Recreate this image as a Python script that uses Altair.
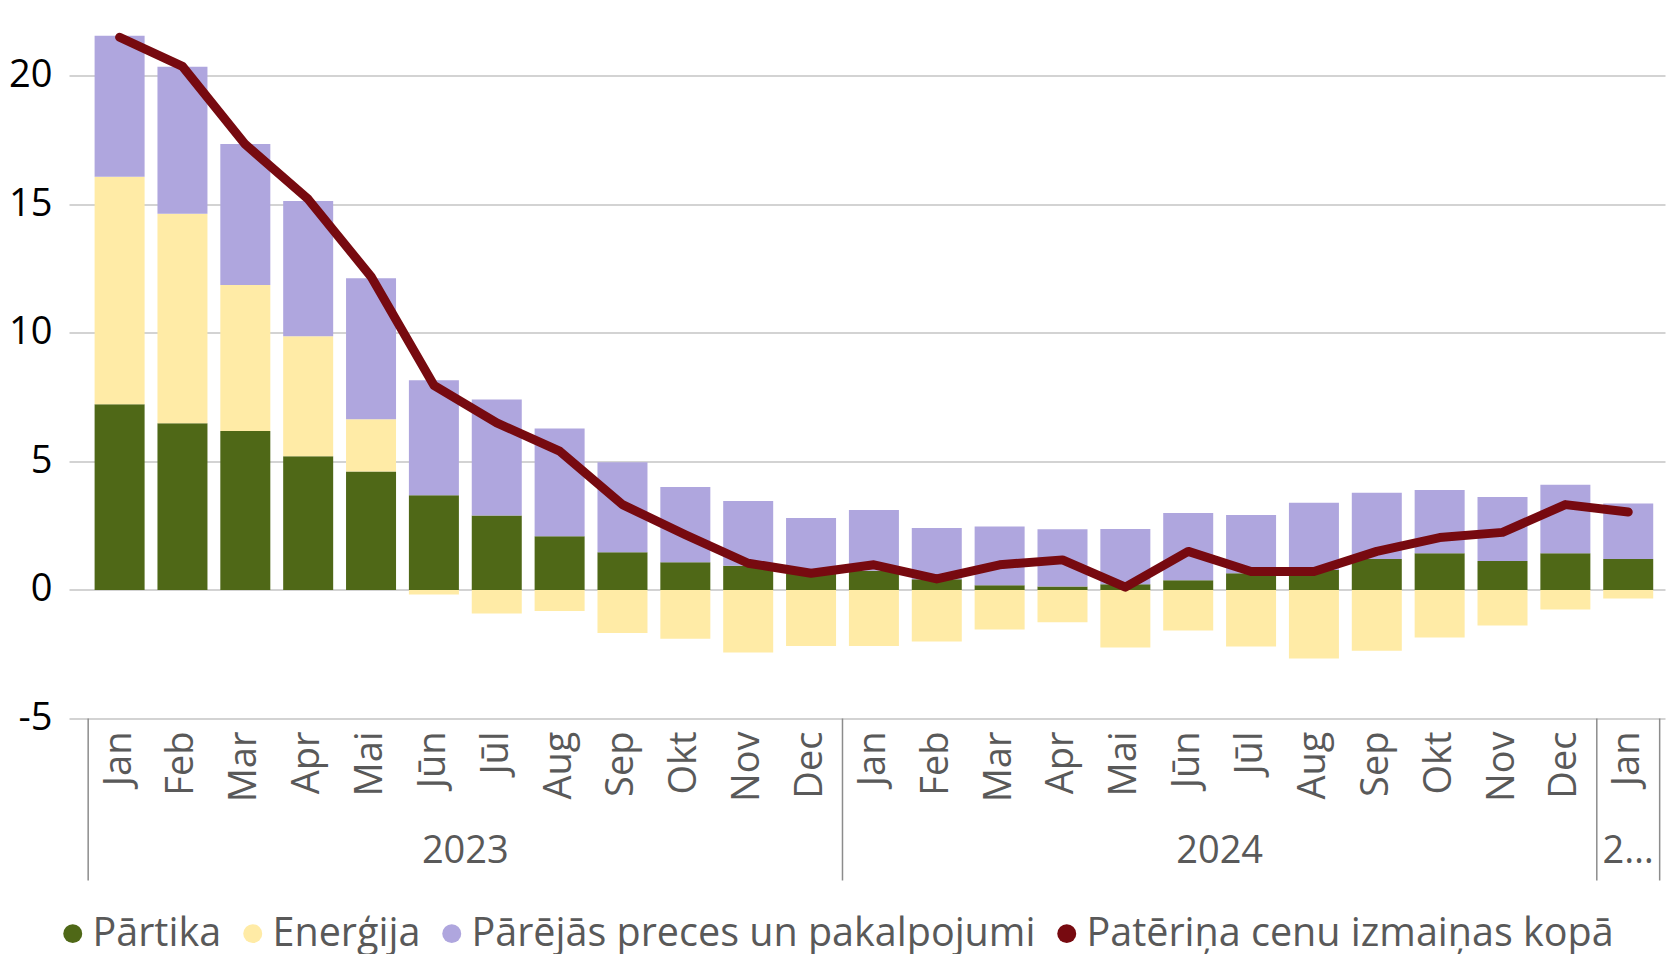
import altair as alt
import pandas as pd

# ---------------- data ----------------
months = ["Jan", "Feb", "Mar", "Apr", "Mai", "Jūn", "Jūl", "Aug", "Sep", "Okt", "Nov", "Dec",
          "Jan", "Feb", "Mar", "Apr", "Mai", "Jūn", "Jūl", "Aug", "Sep", "Okt", "Nov", "Dec",
          "Jan"]
years = ["2023"] * 12 + ["2024"] * 12 + ["2025"]

partika = [7.22, 6.49, 6.18, 5.20, 4.61, 3.68, 2.90, 2.09, 1.47, 1.08, 0.94, 0.62,
           0.75, 0.42, 0.18, 0.13, 0.22, 0.38, 0.65, 0.78, 1.20, 1.43, 1.13, 1.43,
           1.20]
energija = [8.85, 8.14, 5.68, 4.67, 2.03, -0.18, -0.92, -0.82, -1.67, -1.90, -2.43, -2.18,
            -2.18, -2.00, -1.54, -1.26, -2.24, -1.58, -2.20, -2.67, -2.36, -1.85, -1.38, -0.76,
            -0.33]
parejas = [5.49, 5.72, 5.49, 5.26, 5.49, 4.48, 4.51, 4.19, 3.50, 2.93, 2.52, 2.18,
           2.36, 1.99, 2.29, 2.23, 2.15, 2.61, 2.27, 2.61, 2.58, 2.46, 2.49, 2.66,
           2.16]
kopa = [21.50, 20.37, 17.33, 15.20, 12.19, 7.96, 6.50, 5.40, 3.32, 2.15, 1.04, 0.65,
        0.98, 0.43, 0.98, 1.17, 0.11, 1.50, 0.72, 0.72, 1.50, 2.04, 2.24, 3.32,
        3.03]

series_names = ["Pārtika", "Enerģija", "Pārējās preces un pakalpojumi",
                "Patēriņa cenu izmaiņas kopā"]
series_colors = ["#4F6817", "#FFEBA6", "#AFA6DE", "#770A10"]
y_ticks = [-5, 0, 5, 10, 15, 20]

FONT = "Open Sans"
GRAY = "#595959"

# ---------------- tables ----------------
idx = list(range(len(months)))
rows = []
for i in idx:
    for k, vals in enumerate([partika, energija, parejas]):
        rows.append({"idx": i, "series": series_names[k], "value": vals[i], "ord": k})
bar_df = pd.DataFrame(rows)
line_df = pd.DataFrame({"idx": idx, "kopa": kopa})
month_df = pd.DataFrame({"idx": idx, "month": months})

# year groups derived from the years list
grp = []
seps = []
for y in dict.fromkeys(years):
    members = [i for i in idx if years[i] == y]
    first, last = members[0], members[-1]
    label = y if len(members) > 1 else y[0] + "…"
    grp.append({"pos": (first + last) / 2, "label": label})
    seps.append(first - 0.5)
seps.append(idx[-1] + 0.5)
year_df = pd.DataFrame(grp)
sep_df = pd.DataFrame({"pos": seps})

# ---------------- scales ----------------
x_scale = alt.Scale(domain=[-0.805, 24.585], nice=False, zero=False, padding=0)
y_scale = alt.Scale(domain=[-5, 22.23], nice=False, zero=False)
color_scale = alt.Scale(domain=series_names, range=series_colors)
y_axis = alt.Axis(title=None, values=y_ticks, labelExpr="'' + datum.value")

X = lambda f: alt.X(f, scale=x_scale, axis=None)

bars = alt.Chart(bar_df).mark_bar(size=50).encode(
    x=X("idx:Q"),
    y=alt.Y("value:Q", stack="zero", scale=y_scale, axis=y_axis),
    color=alt.Color(
        "series:N", scale=color_scale,
        legend=alt.Legend(
            orient="none", legendX=-16, legendY=895, direction="horizontal",
            title=None, symbolType="circle", symbolSize=360, symbolStrokeWidth=0,
            labelFontSize=39.5, labelFont=FONT, labelColor=GRAY, labelLimit=0,
            columnPadding=11, labelOffset=0, padding=0,
        ),
    ),
    order=alt.Order("ord:Q"),
)

line = alt.Chart(line_df).mark_line(
    strokeWidth=9, strokeCap="round", strokeJoin="round", color=series_colors[3]
).encode(
    x=X("idx:Q"),
    y=alt.Y("kopa:Q", scale=y_scale, axis=y_axis),
)

month_text = alt.Chart(month_df).mark_text(
    angle=270, align="right", baseline="middle", fontSize=38, font=FONT,
    color=GRAY, yOffset=13,
).encode(
    x=X("idx:Q"),
    y=alt.Y(datum=-5, scale=y_scale, axis=y_axis),
    text="month:N",
)

year_text = alt.Chart(year_df).mark_text(
    align="center", baseline="alphabetic", fontSize=38, font=FONT,
    color=GRAY, yOffset=144,
).encode(
    x=X("pos:Q"),
    y=alt.Y(datum=-5, scale=y_scale, axis=y_axis),
    text="label:N",
)

sep_rules = alt.Chart(sep_df).mark_rule(color="#8C8C8C", strokeWidth=1.5).encode(
    x=X("pos:Q"),
    y=alt.Y(datum=-5, scale=y_scale, axis=y_axis),
    y2=alt.value(862),
)

chart = alt.layer(bars, line, month_text, year_text, sep_rules).properties(
    width=1596, height=700,
    autosize=alt.AutoSizeParams(type="none"),
    padding={"left": 61, "top": 10.5, "right": 1, "bottom": 235},
    background="white",
).configure_view(stroke=None).configure_axisY(
    domain=False, ticks=False, tickSize=0, labelPadding=17,
    labelFontSize=38, labelFont=FONT, labelColor="black",
    gridColor="#C4C4C4", gridWidth=1.6,
)

chart.save("out.html", embed_options={"renderer": "svg", "actions": False})
